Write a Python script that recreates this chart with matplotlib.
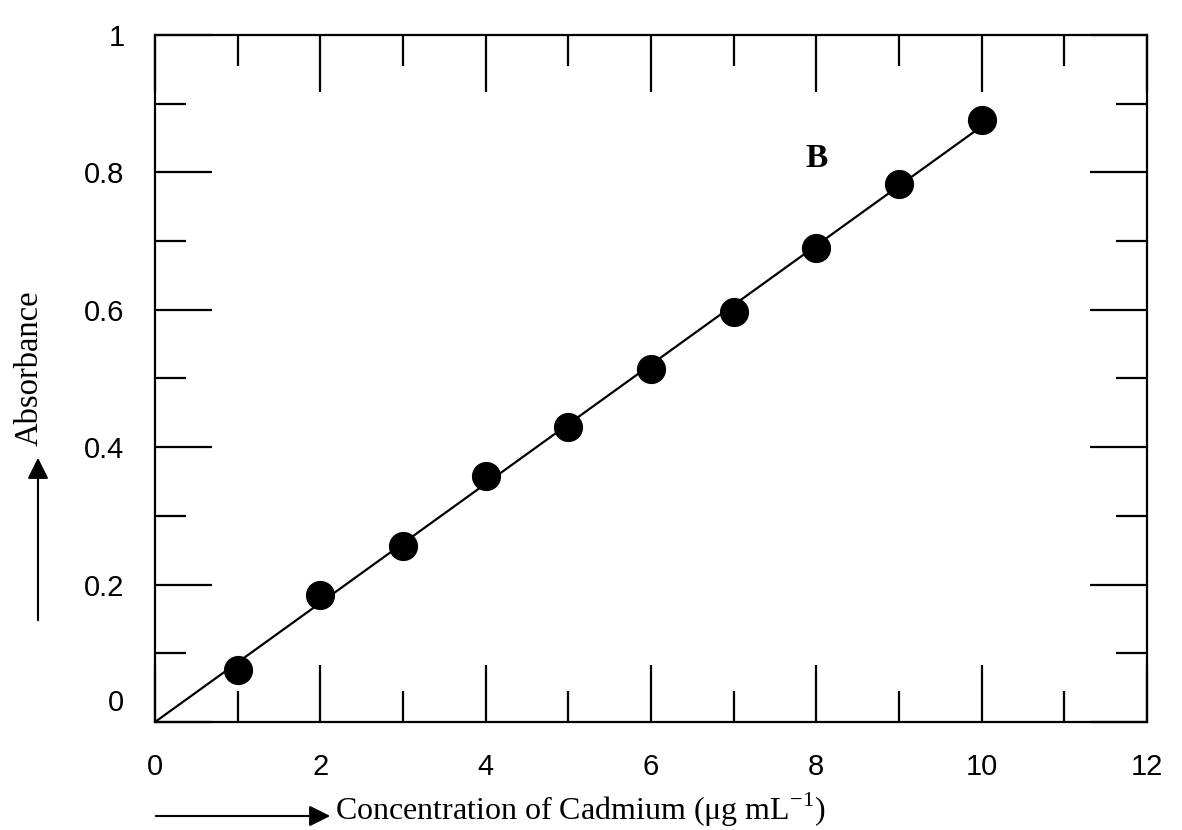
import matplotlib
matplotlib.use("Agg")
import matplotlib.pyplot as plt
import matplotlib.transforms as mtransforms
import numpy as np
from matplotlib.ticker import MultipleLocator

plt.rcParams['font.family'] = ['Liberation Sans', 'DejaVu Sans']
plt.rcParams['mathtext.fontset'] = 'custom'
plt.rcParams['mathtext.rm'] = 'Liberation Serif'

# cadmium standards (ug/mL) and measured absorbance
conc = [1, 2, 3, 4, 5, 6, 7, 8, 9, 10]
absorbance = [0.076, 0.185, 0.256, 0.358, 0.429, 0.514, 0.597, 0.690, 0.783, 0.876]

x_ticks = [0, 2, 4, 6, 8, 10, 12]
y_ticks = [0, 0.2, 0.4, 0.6, 0.8, 1.0]
y_tick_labels = ["0", "0.2", "0.4", "0.6", "0.8", "1"]

# calibration line forced through the origin
xs = np.array(conc, dtype=float)
ys = np.array(absorbance)
slope = np.sum(xs * ys) / np.sum(xs * xs)
fit_x = np.array([0.0, xs.max()])

fig = plt.figure(figsize=(11.82, 8.30), dpi=100)
ax = fig.add_axes([155 / 1182, 1 - 722 / 830, (1147 - 155) / 1182, (722 - 35) / 830])

ax.plot(fit_x, slope * fit_x, color='black', lw=1.6, zorder=2)
ax.plot(conc, absorbance, 'o', color='black', markersize=20, zorder=3)

ax.set_xlim(0, 12)
ax.set_ylim(0, 1.0)
ax.set_xticks(x_ticks)
ax.set_xticklabels([str(v) for v in x_ticks])
ax.set_yticks(y_ticks)
ax.set_yticklabels(y_tick_labels)
ax.xaxis.set_minor_locator(MultipleLocator(1))
ax.yaxis.set_minor_locator(MultipleLocator(0.1))

ax.tick_params(which='both', direction='in', top=True, right=True, width=1.6, colors='black')
ax.tick_params(which='major', length=41, labelsize=21, pad=22)
ax.tick_params(which='minor', length=22)
for sp in ax.spines.values():
    sp.set_linewidth(1.6)

# lift the zero label on the y axis a little
lbl0 = ax.get_yticklabels()[0]
lbl0.set_transform(lbl0.get_transform() + mtransforms.ScaledTranslation(0, 22 / 100, fig.dpi_scale_trans))

ax.text(8.0, 0.82, "B", fontsize=24, fontweight='bold', family='Liberation Serif',
        ha='center', va='center')

# axis titles with arrows
fig.text(29 / 1182, 1 - 368 / 830, "Absorbance", rotation=90, fontsize=23.5,
         family='Liberation Serif', ha='center', va='center')
fig.add_artist(matplotlib.patches.FancyArrowPatch(
    (38 / 1182, 1 - 623 / 830), (38 / 1182, 1 - 455 / 830), transform=fig.transFigure,
    arrowstyle='-|>', mutation_scale=32, lw=1.5, color='black'))

fig.text(335 / 1182, 1 - 820 / 830, r"Concentration of Cadmium (μg mL$^{-1}$)", fontsize=23,
         family='Liberation Serif', ha='left', va='baseline')
fig.add_artist(matplotlib.patches.FancyArrowPatch(
    (153 / 1182, 1 - 816 / 830), (333 / 1182, 1 - 816 / 830), transform=fig.transFigure,
    arrowstyle='-|>', mutation_scale=32, lw=1.5, color='black'))

fig.savefig("out.png", dpi=100)
